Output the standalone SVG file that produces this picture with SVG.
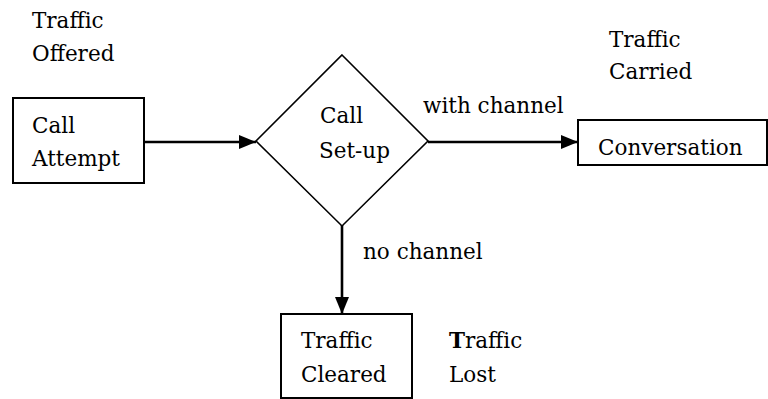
<svg xmlns="http://www.w3.org/2000/svg" width="768" height="399" viewBox="0 0 768 399">
<style>
text{font-family:'DejaVu Serif',serif;font-size:21.5px;fill:#000}
.box{fill:#fff;stroke:#000;stroke-width:2}
.dia{fill:#fff;stroke:#000;stroke-width:1.6}
.conn{stroke:#000;stroke-width:2.6;fill:none}
</style>
<defs>
<marker id="ah" markerUnits="userSpaceOnUse" markerWidth="18" markerHeight="14" refX="17" refY="7" orient="auto">
<path d="M0,0 L17,7 L0,14 Z" fill="#000"/>
</marker>
</defs>
<rect width="768" height="399" fill="#fff"/>
<g font-family="'DejaVu Serif', serif">
<g id="connectors">
<line class="conn" x1="144" y1="142" x2="256" y2="142" marker-end="url(#ah)"/>
<line class="conn" x1="428" y1="142" x2="578" y2="142" marker-end="url(#ah)"/>
<line class="conn" x1="342" y1="225" x2="342" y2="314" marker-end="url(#ah)"/>
<text x="423" y="113">with channel</text>
<text x="363" y="259">no channel</text>
</g>
<g id="label-offered">
<text x="32" y="28">Traffic</text>
<text x="32" y="61">Offered</text>
</g>
<g id="call-attempt">
<rect class="box" x="13" y="98" width="131" height="85"/>
<text x="32" y="133">Call</text>
<text x="32" y="166">Attempt</text>
</g>
<g id="call-setup">
<polygon class="dia" points="342,55 428,141 342,226 256,141"/>
<text x="320" y="123">Call</text>
<text x="319" y="158">Set-up</text>
</g>
<g id="label-carried">
<text x="609" y="47">Traffic</text>
<text x="609" y="79">Carried</text>
</g>
<g id="conversation">
<rect class="box" x="578" y="120" width="189" height="45"/>
<text x="598" y="155">Conversation</text>
</g>
<g id="traffic-cleared">
<rect class="box" x="281" y="314" width="131" height="84"/>
<text x="301" y="348">Traffic</text>
<text x="301" y="382">Cleared</text>
</g>
<g id="label-lost">
<text x="449" y="348"><tspan font-weight="bold">T</tspan>raffic</text>
<text x="449" y="382">Lost</text>
</g>
</g>
</svg>
